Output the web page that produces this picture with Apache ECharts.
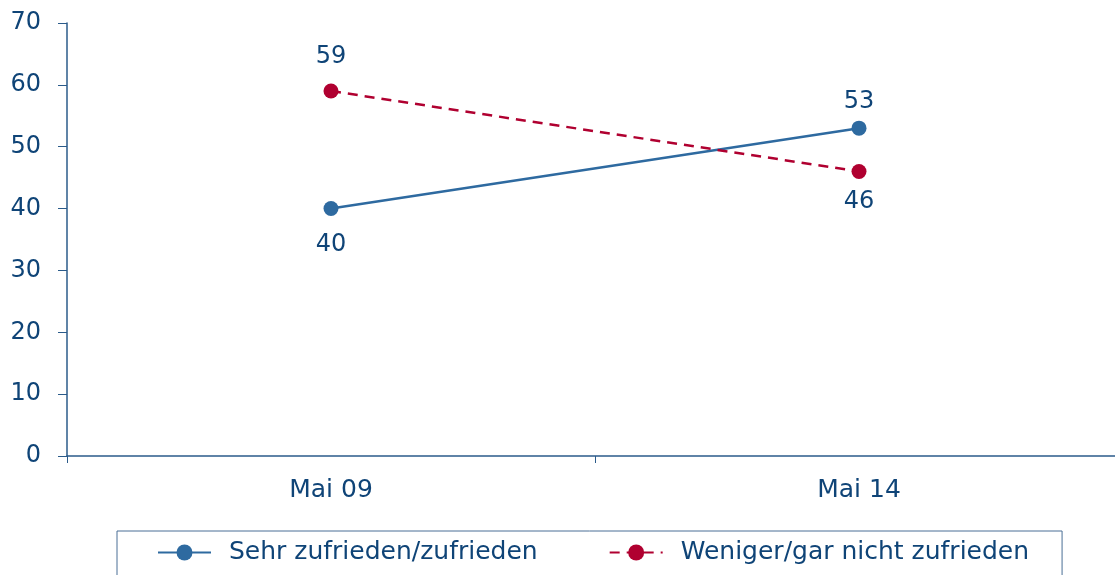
<!DOCTYPE html>
<html>
<head>
<meta charset="utf-8">
<script src="https://cdn.jsdelivr.net/npm/echarts@6/dist/echarts.min.js"></script>
<style>
  html, body { margin: 0; padding: 0; background: #fff; }
  #chart { width: 1115px; height: 575px; }
</style>
</head>
<body>
<div id="chart"></div>
<script>
// data
const categories = ["Mai 09", "Mai 14"];
const zufrieden = [40, 53];
const nichtZufrieden = [59, 46];
const seriesNames = ["Sehr zufrieden/zufrieden", "Weniger/gar nicht zufrieden"];

const navy = "#0f4477";
const blue = "#2e6aa0";
const red = "#b00030";
const font = "DejaVu Sans";

// label above or below, per point (distance tweaked per point)
function withLabels(values, positions, distances) {
  return values.map((v, i) => ({
    value: v,
    label: { position: positions[i], distance: distances[i] },
  }));
}

const chart = echarts.init(document.getElementById("chart"));
chart.setOption({
  animation: false,
  textStyle: { fontFamily: font },
  // plot runs a little past the right edge of the window
  grid: {
    left: 67, right: -8, top: 23, bottom: 119,
    containLabel: false,
    outerBoundsMode: "none",
  },
  legend: {
    left: 117,
    top: 531,
    padding: [9, 33, 30, 40],
    borderColor: "#4a6f96",
    borderWidth: 1,
    itemWidth: 53,
    itemHeight: 20,
    itemGap: 71,
    textStyle: { color: navy, fontSize: 25, fontFamily: font, padding: [0, 0, 0, 13] },
    data: seriesNames,
  },
  xAxis: {
    type: "category",
    data: categories,
    boundaryGap: true,
    axisLine: { lineStyle: { color: "#2b5b8a", width: 1.5 } },
    axisTick: { show: true, length: 7, alignWithLabel: false, lineStyle: { color: "#2b5b8a" } },
    axisLabel: { color: navy, fontSize: 25, margin: 22 },
  },
  yAxis: {
    type: "value",
    min: 0,
    max: 70,
    interval: 10,
    splitLine: { show: false },
    axisLine: { show: true, lineStyle: { color: "#2b5b8a", width: 1.5 } },
    axisTick: { show: true, length: 9, lineStyle: { color: "#2b5b8a" } },
    axisLabel: { color: navy, fontSize: 24, margin: 26 },
  },
  series: [
    {
      name: seriesNames[0],
      type: "line",
      data: withLabels(zufrieden, ["bottom", "top"], [17, 7]),
      symbol: "circle",
      symbolSize: 15,
      color: blue,
      lineStyle: { width: 2.5, color: blue },
      label: { show: true, color: navy, fontSize: 24 },
    },
    {
      name: seriesNames[1],
      type: "line",
      data: withLabels(nichtZufrieden, ["top", "bottom"], [15, 11]),
      symbol: "circle",
      symbolSize: 15,
      color: red,
      lineStyle: { width: 2.5, color: red, type: [10, 7] },
      label: { show: true, color: navy, fontSize: 24 },
    },
  ],
});
window.addEventListener("resize", () => chart.resize());
</script>
</body>
</html>
